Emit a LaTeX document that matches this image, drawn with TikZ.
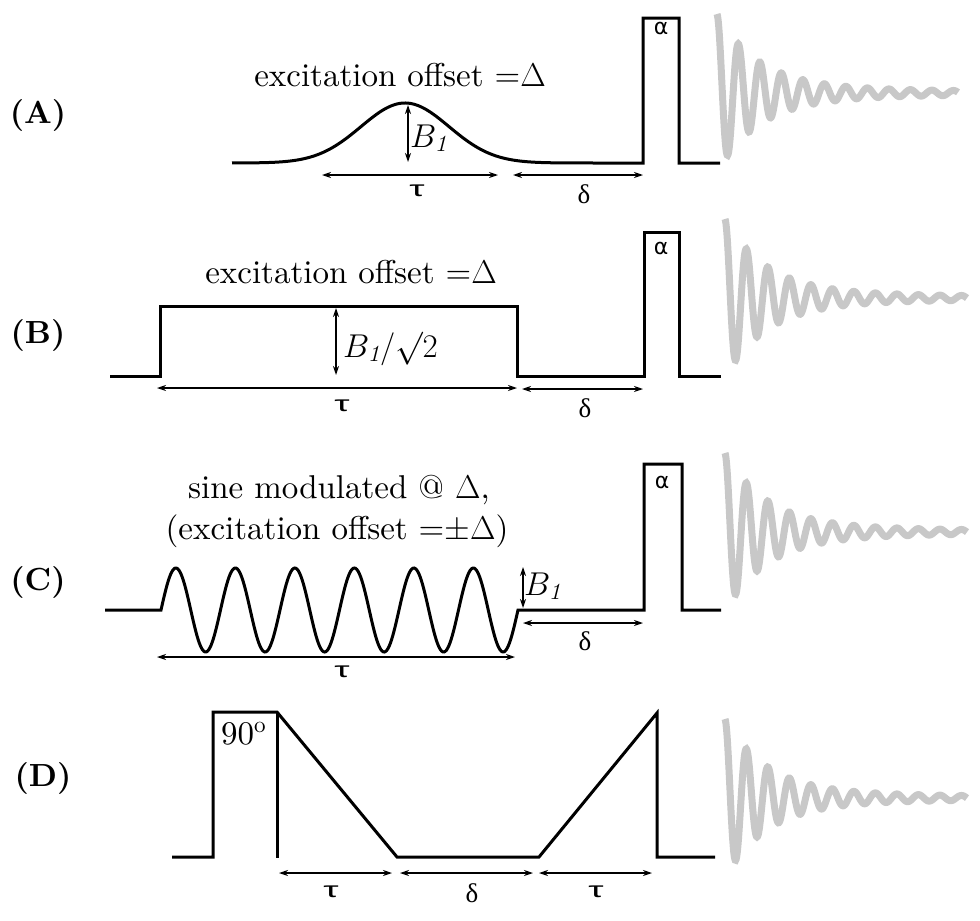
\documentclass[tikz,border=0pt]{standalone}
\usepackage{fix-cm}
\usepackage{graphicx}
\usepackage{fontspec}
\setmainfont{lmroman10-regular.otf}[BoldFont=lmroman10-bold.otf, ItalicFont=lmroman10-italic.otf, BoldItalicFont=lmroman10-bolditalic.otf]
\usetikzlibrary{arrows.meta}
\newfontfamily\grsans{DejaVu Sans}
\newfontfamily\grserif{Liberation Serif}
\newfontfamily\grthin{Liberation Sans}
\definecolor{fidgray}{RGB}{200,200,200}
\newcommand\fidcurve[3]{%
  \draw[fid] plot[domain=0:#3, samples=500] ({#1+\x}, {#2-(74*exp(-\x/42)+5*exp(-\x/300))*cos(16.744*\x)});}
\newcommand\wtau{\scalebox{1.75}[1.0]{τ}}
\begin{document}
\begin{tikzpicture}[x=1pt,y=-1pt,
  pulse/.style={line width=3pt, line join=miter},
  dim/.style={line width=1.3pt, {Stealth[length=9pt,width=6pt]}-{Stealth[length=9pt,width=6pt]}},
  fid/.style={line width=7pt, draw=fidgray},
  lbl/.style={font=\fontsize{33}{40}\selectfont, inner sep=0pt},
  panel/.style={font=\fontsize{32}{38}\selectfont\bfseries, inner sep=0pt, anchor=base},
  taul/.style={font=\grthin\fontsize{22}{22}\selectfont, inner sep=0pt},
  deltal/.style={font=\grserif\fontsize{27}{27}\selectfont, inner sep=0pt},
  alphal/.style={font=\grsans\fontsize{22}{22}\selectfont, inner sep=0pt}]
\useasboundingbox (0,0) rectangle (980,921);

% panel labels
\node[panel] (lA) at (38,123) {(A)};
\node[panel] (lB) at (38,343) {(B)};
\node[panel] (lC) at (38,590) {(C)};
\node[panel] (lD) at (43,786) {(D)};

% ---------- A ----------
\draw[pulse] plot[domain=232:643, samples=200] (\x, {163-60*exp(-((\x-405)/44)^2/2)})
  -- (643,18) -- (679,18) -- (679,163) -- (720,163);
\node[lbl, anchor=base] (tA) at (400,86) {excitation offset =$\Delta$};
\coordinate (aB1t) at (408,105); \coordinate (aB1b) at (408,162);
\draw[dim] (aB1t) -- (aB1b);
\node[lbl, anchor=base west] (bA) at (410,147) {$B_{\mathit{1}}$};
\coordinate (aT1) at (322,175); \coordinate (aT2) at (498,175);
\coordinate (aD1) at (513,175); \coordinate (aD2) at (643,175);
\draw[dim] (aT1) -- (aT2);
\draw[dim] (aD1) -- (aD2);
\node[taul] (tauA) at (417,191) {\wtau};
\node[deltal] (delA) at (584,194) {δ};
\node[alphal] (alA) at (661,28) {α};
\fidcurve{717}{93}{241}

% ---------- B ----------
\draw[pulse] (110,376) -- (160,376) -- (160,306) -- (517,306) -- (517,376) -- (644,376)
  -- (644,232) -- (679,232) -- (679,376) -- (721,376);
\node[lbl, anchor=base] (tB) at (351,283) {excitation offset =$\Delta$};
\coordinate (bB1t) at (336,308); \coordinate (bB1b) at (336,375);
\draw[dim] (bB1t) -- (bB1b);
\node[lbl, anchor=base west] (bB) at (343,357) {$B_{\mathit{1}}/{\surd}2$};
\coordinate (bT1) at (157,388); \coordinate (bT2) at (517,388);
\coordinate (bD1) at (522,389); \coordinate (bD2) at (643,389);
\draw[dim] (bT1) -- (bT2);
\draw[dim] (bD1) -- (bD2);
\node[taul] (tauB) at (342,406) {\wtau};
\node[deltal] (delB) at (585,408) {δ};
\node[alphal] (alB) at (661,248) {α};
\fidcurve{725}{298}{242}

% ---------- C ----------
\draw[pulse] (105,610) -- (161,610) -- plot[domain=161:518, samples=300] (\x, {610-42*sin(6.05042*(\x-161))})
  -- (644,610) -- (644,464) -- (682,464) -- (682,610) -- (721,610);
\node[lbl, anchor=base] (tC1) at (339,498) {sine modulated @ $\Delta$,};
\node[lbl, anchor=base] (tC2) at (337,539) {(excitation offset =${\pm}\Delta$)};
\coordinate (cB1t) at (523,567); \coordinate (cB1b) at (523,608);
\draw[dim] (cB1t) -- (cB1b);
\node[lbl, anchor=base west] (bC) at (524,595) {$B_{\mathit{1}}$};
\coordinate (cT1) at (157,657); \coordinate (cT2) at (515,657);
\coordinate (cD1) at (523,623); \coordinate (cD2) at (643,623);
\draw[dim] (cT1) -- (cT2);
\draw[dim] (cD1) -- (cD2);
\node[taul] (tauC) at (342,672) {\wtau};
\node[deltal] (delC) at (585,641) {δ};
\node[alphal] (alC) at (662,482) {α};
\fidcurve{725}{532}{242}

% ---------- D ----------
\draw[pulse] (172,857) -- (213,857) -- (213,712) -- (277,712) -- (397,857) -- (539,857)
  -- (657,713) -- (657,857) -- (715,857);
\draw[pulse] (277,712) -- (277,858);
\node[lbl, anchor=base west] (ninety) at (221,744) {90$^{\mathrm{o}}$};
\coordinate (dT1) at (279,873); \coordinate (dT2) at (392,873);
\coordinate (dD1) at (400,873); \coordinate (dD2) at (533,873);
\coordinate (dT3) at (539,873); \coordinate (dT4) at (652,873);
\draw[dim] (dT1) -- (dT2);
\draw[dim] (dD1) -- (dD2);
\draw[dim] (dT3) -- (dT4);
\node[taul] (tauD1) at (331,892) {\wtau};
\node[deltal] (delD) at (472,893) {δ};
\node[taul] (tauD2) at (596,892) {\wtau};
\fidcurve{725}{798}{242}
\end{tikzpicture}
\end{document}
